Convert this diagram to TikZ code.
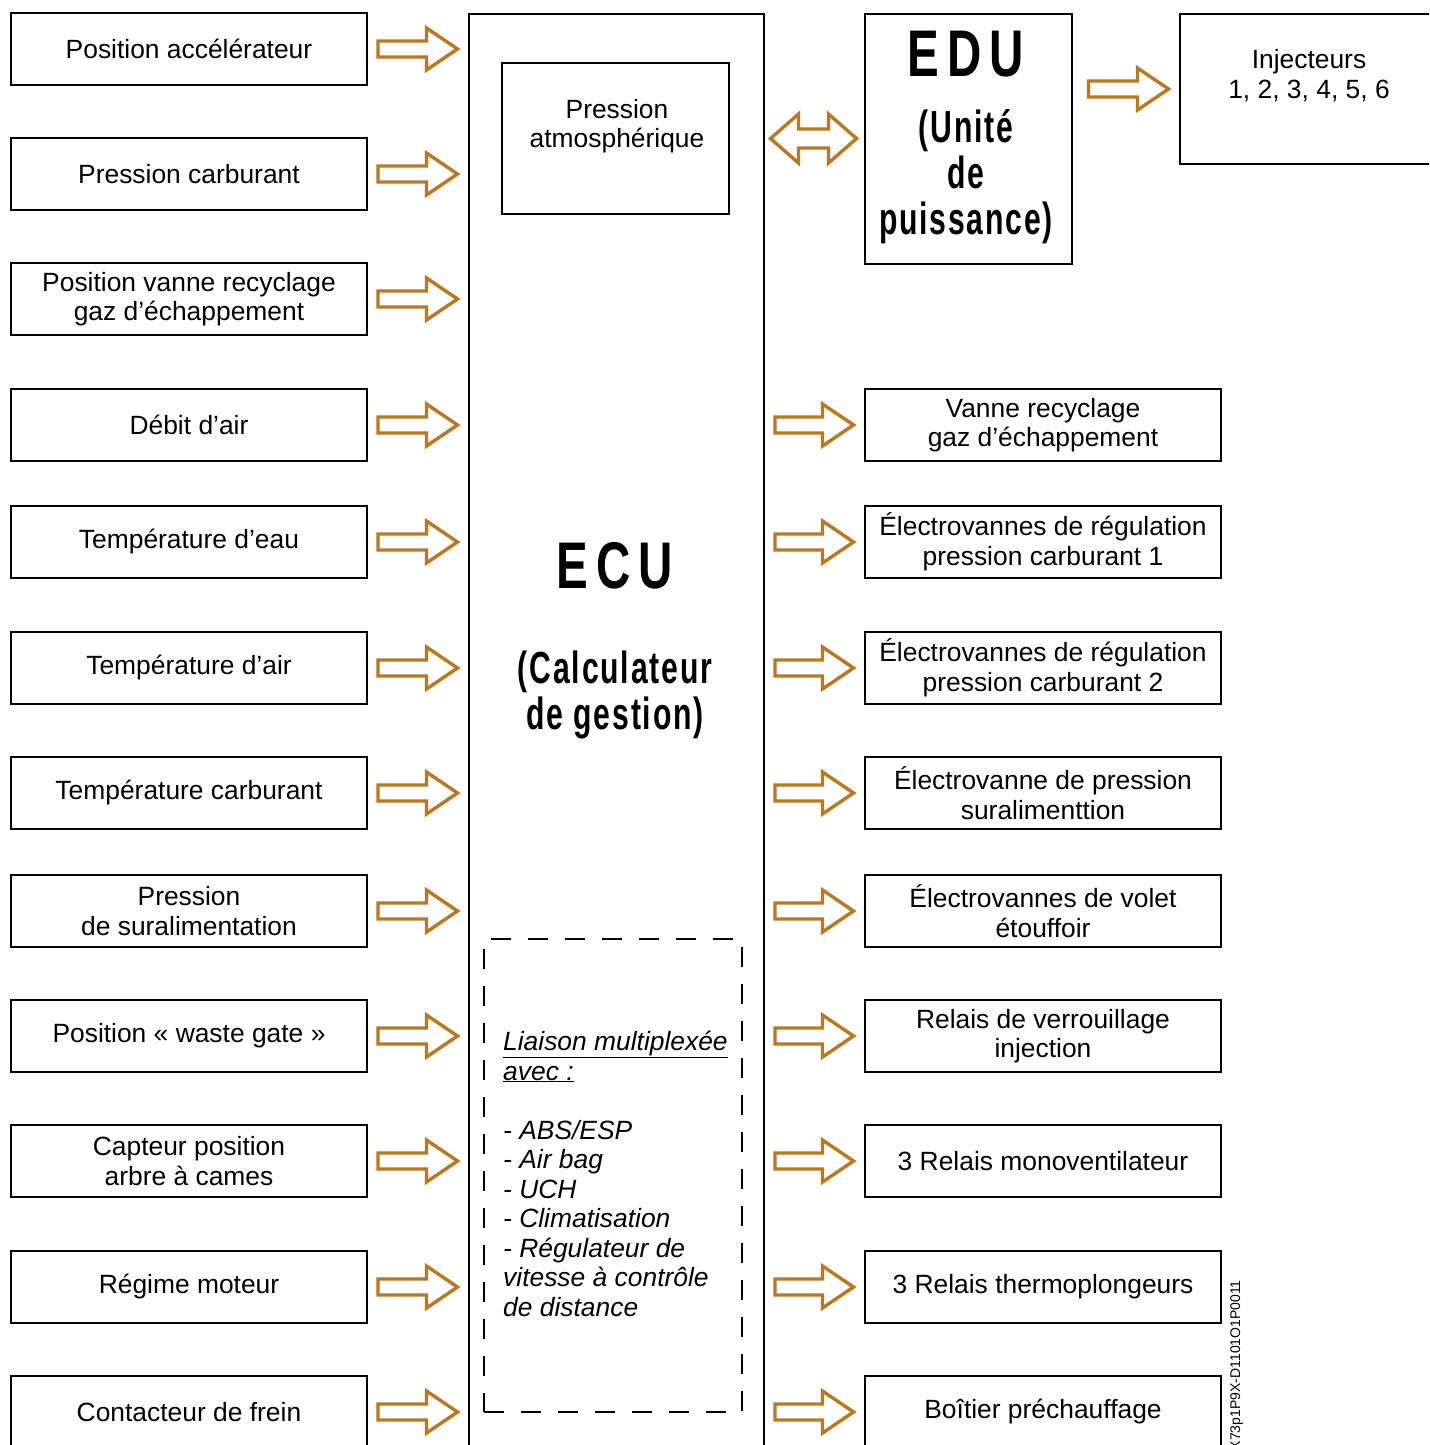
\documentclass[tikz,border=0pt]{standalone}
\usepackage{fontspec}
\setmainfont{Liberation Sans}
\newfontfamily\titrefont{Liberation Sans}[FakeStretch=0.67,LetterSpace=4]
\newfontfamily\sigle{Liberation Sans}[FakeStretch=0.72,LetterSpace=12]
\newfontfamily\codefont{Liberation Sans}
\usetikzlibrary{calc}
\definecolor{bronze}{RGB}{186,120,32}

% hollow block arrow, from #2 to #3 (#1 = gap at the start)
\newcommand{\fleche}[3][10]{%
  \draw[fleche] let \p1=(#2), \p2=(#3) in
    (\x1+#1,\y1+8) -- (\x2-41.5,\y1+8) -- (\x2-41.5,\y1+21) -- (\x2-10.5,\y1)
    -- (\x2-41.5,\y1-21) -- (\x2-41.5,\y1-8) -- (\x1+#1,\y1-8) -- cycle;}
% same, with a head at both ends
\newcommand{\doublefleche}[2]{%
  \draw[fleche] let \p1=(#1), \p2=(#2) in
    (\x1+5.5,\y1) -- (\x1+33.5,\y1+24.5) -- (\x1+33.5,\y1+9.5)
    -- (\x2-35.5,\y1+9.5) -- (\x2-35.5,\y1+24.5) -- (\x2-7.5,\y1)
    -- (\x2-35.5,\y1-24.5) -- (\x2-35.5,\y1-9.5) -- (\x1+33.5,\y1-9.5)
    -- (\x1+33.5,\y1-24.5) -- cycle;}

\begin{document}
\begin{tikzpicture}
  [x=1pt,y=-1pt,every node/.style={inner sep=0pt},
   boite/.style={draw,line width=2pt,minimum width=356pt,minimum height=72pt,
     align=center,font=\fontsize{26.4}{29.5}\selectfont},
   cadre/.style={draw,line width=2pt},
   texte/.style={align=center,font=\fontsize{26.4}{29}\selectfont},
   fleche/.style={draw=bronze,line width=3.4pt,line join=miter}]
  \useasboundingbox (0,0) rectangle (1429,1445);
  \clip (0,0) rectangle (1429,1445);

  % calculateur (base = last line of the text)
  \node[cadre,minimum width=295pt,minimum height=1450pt,anchor=north west] (ecu) at (468,13) {};
  \node[cadre,minimum width=227pt,minimum height=151pt] (atmo) at (615.5,138.5) {};
  \node[texte,anchor=base] (atmotxt) at (617,147) {Pression\\atmosphérique};
  \node[font=\sigle\bfseries\fontsize{66}{66}\selectfont,anchor=base] (ecutitre) at (615,588) {ECU};
  \node[font=\titrefont\bfseries\fontsize{45}{46}\selectfont,align=center,anchor=base] (ecusous) at (615,729) {(Calculateur\\de gestion)};
  \node[cadre,dash pattern=on 20pt off 17pt,minimum width=258pt,minimum height=473pt] (multiplex) at (613,1175.5) {};
  \node[align=left,anchor=base west,font=\itshape\fontsize{26.4}{29.5}\selectfont] (multitxt) at (503,1316)
    {\underline{Liaison multiplexée}\\\underline{avec :}\\[29.5pt]- ABS/ESP\\- Air bag\\- UCH\\- Climatisation\\- Régulateur de\\vitesse à contrôle\\de distance};

  % unite de puissance et injecteurs
  \node[cadre,minimum width=207pt,minimum height=250pt] (edu) at (968.5,139) {};
  \node[font=\sigle\bfseries\fontsize{66}{66}\selectfont,anchor=base] (edutitre) at (966,77) {EDU};
  \node[font=\titrefont\bfseries\fontsize{45}{46}\selectfont,align=center,anchor=base] (edusous) at (966,234) {(Unité\\de\\puissance)};
  \node[cadre,minimum width=262pt,minimum height=150pt,anchor=north west] (inj) at (1179,13) {};
  \node[texte,anchor=base] (injtxt) at (1309,98) {Injecteurs\\1, 2, 3, 4, 5, 6};

  % entrees
  \node[boite] (l1) at (189,49) {Position accélérateur};
  \node[boite] (l2) at (189,174) {Pression carburant};
  \node[boite] (l3) at (189,299) {Position vanne recyclage\\gaz d’échappement};
  \node[boite] (l4) at (189,425) {Débit d’air};
  \node[boite] (l5) at (189,542) {Température d’eau};
  \node[boite] (l6) at (189,668) {Température d’air};
  \node[boite] (l7) at (189,793) {Température carburant};
  \node[boite] (l8) at (189,911) {Pression\\de suralimentation};
  \node[boite] (l9) at (189,1036) {Position « waste gate »};
  \node[boite] (l10) at (189,1161) {Capteur position\\arbre à cames};
  \node[boite] (l11) at (189,1287) {Régime moteur};
  \node[boite] (l12) at (189,1412) {Contacteur de frein};

  % sorties
  \node[boite] (r1) at (1043,425) {Vanne recyclage\\gaz d’échappement};
  \node[boite] (r2) at (1043,542) {Électrovannes de régulation\\pression carburant 1};
  \node[boite] (r3) at (1043,668) {Électrovannes de régulation\\pression carburant 2};
  \node[boite] (r4) at (1043,793) {Électrovanne de pression\\suralimenttion};
  \node[boite] (r5) at (1043,911) {Électrovannes de volet\\étouffoir};
  \node[boite] (r6) at (1043,1036) {Relais de verrouillage\\injection};
  \node[boite] (r7) at (1043,1161) {3 Relais monoventilateur};
  \node[boite] (r8) at (1043,1287) {3 Relais thermoplongeurs};
  \node[boite] (r9) at (1043,1412) {Boîtier préchauffage};

  \node[font=\codefont\fontsize{14}{14}\selectfont,rotate=90,anchor=base east] (code) at (1240,1280) {X73p1P9X-D1101O1P0011};

  \fleche{l1.east}{ecu.west |- l1.east}
  \fleche{l2.east}{ecu.west |- l2.east}
  \fleche{l3.east}{ecu.west |- l3.east}
  \fleche{l4.east}{ecu.west |- l4.east}
  \fleche{l5.east}{ecu.west |- l5.east}
  \fleche{l6.east}{ecu.west |- l6.east}
  \fleche{l7.east}{ecu.west |- l7.east}
  \fleche{l8.east}{ecu.west |- l8.east}
  \fleche{l9.east}{ecu.west |- l9.east}
  \fleche{l10.east}{ecu.west |- l10.east}
  \fleche{l11.east}{ecu.west |- l11.east}
  \fleche{l12.east}{ecu.west |- l12.east}

  \doublefleche{ecu.east |- atmo}{edu.west |- atmo}
  \fleche[15.5]{edu.east |- inj}{inj.west}

  \fleche{ecu.east |- r1.west}{r1.west}
  \fleche{ecu.east |- r2.west}{r2.west}
  \fleche{ecu.east |- r3.west}{r3.west}
  \fleche{ecu.east |- r4.west}{r4.west}
  \fleche{ecu.east |- r5.west}{r5.west}
  \fleche{ecu.east |- r6.west}{r6.west}
  \fleche{ecu.east |- r7.west}{r7.west}
  \fleche{ecu.east |- r8.west}{r8.west}
  \fleche{ecu.east |- r9.west}{r9.west}
\end{tikzpicture}
\end{document}
